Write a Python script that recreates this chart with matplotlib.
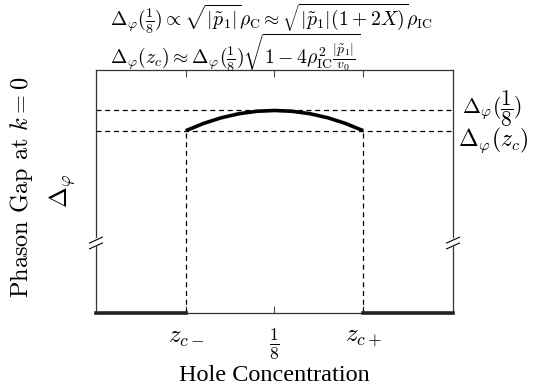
import matplotlib
matplotlib.use('Agg')
import matplotlib.pyplot as plt

plt.rcParams['mathtext.fontset'] = 'cm'
plt.rcParams['font.family'] = 'Liberation Serif'

# Hole concentration positions (schematic units)
z_cm = 0.100
z_mid = 0.125
z_cp = 0.150
x_left = 0.0747
x_right = 0.1753

# Gap levels
gap_eighth = 1.0
gap_zc = 0.9

# Gap curve between z_c- and z_c+
curve_x = [0.100, 0.105, 0.110, 0.115, 0.120, 0.125, 0.130, 0.135, 0.140, 0.145, 0.150]
curve_y = [0.900, 0.936, 0.964, 0.984, 0.996, 1.000, 0.996, 0.984, 0.964, 0.936, 0.900]

# Zero gap outside the window
left_x = [x_left, z_cm]
right_x = [z_cp, x_right]
zero_y = [0, 0]

tick_pos = [z_cm, z_mid, z_cp]
tick_labels = [r'$z_{c-}$', r'$\frac{1}{8}$', r'$z_{c+}$']

fig = plt.figure(figsize=(5.33, 3.92), dpi=100)
ax = fig.add_axes([0.180, 0.2015, 0.670, 0.620])

# Curve and zero lines
ax.plot(curve_x, curve_y, color='black', lw=2.6, solid_capstyle='butt', zorder=3)
ax.plot(left_x, zero_y, color='#222222', lw=2.6, clip_on=False, zorder=3)
ax.plot(right_x, zero_y, color='#222222', lw=2.6, clip_on=False, zorder=3)

# Dashed guide lines
ax.axhline(gap_eighth, color='black', ls=(0, (4, 3)), lw=0.9)
ax.axhline(gap_zc, color='black', ls=(0, (4, 3)), lw=0.9)
ax.plot([z_cm, z_cm], [0, gap_zc], color='black', ls=(0, (4, 3)), lw=0.9)
ax.plot([z_cp, z_cp], [0, gap_zc], color='black', ls=(0, (4, 3)), lw=0.9)

ax.set_xlim(x_left, x_right)
ax.set_ylim(0, 1.2)

for s in ax.spines.values():
    s.set_color('#333333')
    s.set_linewidth(0.9)

# Ticks: inward on top, labels at bottom
ax.set_yticks([])
ax.set_xticks(tick_pos)
ax.set_xticklabels(tick_labels, fontsize=18)
ax.tick_params(axis='x', direction='in', top=True, length=5, width=0.8,
               pad=10, color='#444444')

ax.set_xlabel('Hole Concentration', fontsize=17.5, labelpad=2)

# Axis break marks on both spines
yb = 0.288
for xb in [0.0, 1.0]:
    ax.plot([xb - 0.004, xb + 0.004], [yb - 0.010, yb + 0.010], color='white',
            lw=3, transform=ax.transAxes, clip_on=False, zorder=4)
    for dy in [-0.012, 0.012]:
        ax.plot([xb - 0.018, xb + 0.018], [yb + dy - 0.012, yb + dy + 0.012],
                color='black', lw=0.8, transform=ax.transAxes,
                clip_on=False, zorder=5)

# Left labels
fig.text(0.041, 0.523, r'Phason Gap at $k = 0$', rotation=90,
         fontsize=17.5, family='cmr10', ha='center', va='center')
fig.text(0.118, 0.515, r'$\Delta_\varphi$', rotation=90,
         fontsize=18, ha='center', va='center')

# Right labels
ax.text(1.025, 1.01, r'$\Delta_\varphi(\dfrac{1}{8})$',
        transform=ax.get_yaxis_transform(), fontsize=15.5, va='center', ha='left')
ax.text(1.013, 0.852, r'$\Delta_\varphi(z_c)$',
        transform=ax.get_yaxis_transform(), fontsize=17, va='center', ha='left')

# Formulas above
fig.text(0.206, 0.953,
         r'$\Delta_\varphi(\frac{1}{8}) \propto \sqrt{|\tilde{p}_1|}\rho_{\mathrm{C}} \approx \sqrt{|\tilde{p}_1|(1+2X)}\rho_{\mathrm{IC}}$',
         fontsize=14.2, ha='left', va='center')
fig.text(0.206, 0.864,
         r'$\Delta_\varphi(z_c) \approx \Delta_\varphi(\frac{1}{8})\sqrt{1-4\rho_{\mathrm{IC}}^2\frac{|\tilde{p}_1|}{v_0}}$',
         fontsize=14.2, ha='left', va='center')

fig.savefig('out.png', dpi=100)
